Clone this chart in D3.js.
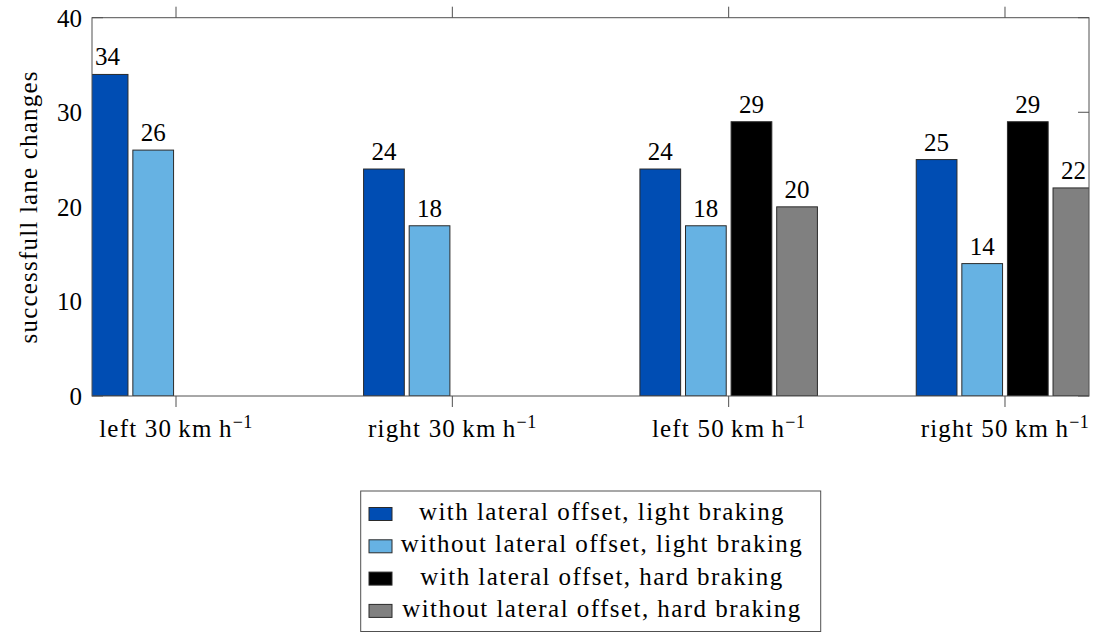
<!DOCTYPE html>
<html>
<head>
<meta charset="utf-8">
<script src="https://cdn.jsdelivr.net/npm/d3@7"></script>
</head>
<body style="margin:0">
<svg id="chart" width="1096" height="632"></svg>
<script>
// ---- data ----
const directions = ["left", "right", "left", "right"];
const speeds = ["30", "30", "50", "50"];
const seriesNames = [
  "with lateral offset, light braking",
  "without lateral offset, light braking",
  "with lateral offset, hard braking",
  "without lateral offset, hard braking"
];
const seriesColors = ["#004db3", "#66b2e3", "#000000", "#808080"];
const withLightValues    = [34, 24, 24, 25];
const withoutLightValues = [26, 18, 18, 14];
const withHardValues     = [null, null, 29, 29];
const withoutHardValues  = [null, null, 20, 22];
const yTicks = [0, 10, 20, 30, 40];
const yLabel = "successfull lane changes";

const seriesValues = [withLightValues, withoutLightValues, withHardValues, withoutHardValues];

// ---- layout ----
const FONT = '"Liberation Serif"';
const svg = d3.select("#chart").style("font-family", FONT);
const plot = { left: 92, right: 1089, top: 17.7, bottom: 396 };

const x = d3.scaleLinear().domain([-0.304, directions.length - 1 + 0.304]).range([plot.left, plot.right]);
const sub = d3.scaleBand().domain(seriesNames).range([-0.33, 0.33]).paddingInner(0.107).paddingOuter(0.0535);
const y = d3.scaleLinear().domain([0, 40]).range([plot.bottom, plot.top]);

const axisColor = "#505050";

svg.append("defs").append("clipPath").attr("id", "clip")
  .append("rect")
  .attr("x", plot.left).attr("y", plot.top)
  .attr("width", plot.right - plot.left).attr("height", plot.bottom - plot.top);

// y ticks (inward, left and right) drawn beneath bars
const yt = svg.append("g");
yTicks.forEach(v => {
  yt.append("line").attr("x1", plot.left).attr("x2", plot.left + 11)
    .attr("y1", y(v)).attr("y2", y(v)).attr("stroke", axisColor).attr("stroke-width", 1);
  yt.append("line").attr("x1", plot.right - 11).attr("x2", plot.right)
    .attr("y1", y(v)).attr("y2", y(v)).attr("stroke", axisColor).attr("stroke-width", 1);
});

// bars
const bars = [];
seriesValues.forEach((vals, si) => {
  vals.forEach((v, ci) => {
    if (v !== null) bars.push({ ci, si, v });
  });
});

const barG = svg.append("g").attr("clip-path", "url(#clip)");
barG.selectAll("rect").data(bars).join("rect")
  .attr("x", d => x(d.ci + sub(seriesNames[d.si])))
  .attr("width", d => x(sub.bandwidth()) - x(0))
  .attr("y", d => y(d.v))
  .attr("height", d => y(0) - y(d.v))
  .attr("fill", d => seriesColors[d.si])
  .attr("stroke", "#2a2a2a")
  .attr("stroke-width", 1);

// value labels
svg.append("g").selectAll("text").data(bars).join("text")
  .attr("x", d => x(d.ci + sub(seriesNames[d.si]) + sub.bandwidth() / 2))
  .attr("y", d => y(d.v) - 9)
  .attr("text-anchor", "middle")
  .attr("font-size", 25)
  .style("font-family", FONT)
  .text(d => d.v);

// frame
svg.append("rect")
  .attr("x", plot.left).attr("y", plot.top)
  .attr("width", plot.right - plot.left).attr("height", plot.bottom - plot.top)
  .attr("fill", "none").attr("stroke", axisColor).attr("stroke-width", 1);

// x ticks (outside, top and bottom)
directions.forEach((d, i) => {
  svg.append("line").attr("x1", x(i)).attr("x2", x(i))
    .attr("y1", plot.bottom).attr("y2", plot.bottom + 11)
    .attr("stroke", axisColor).attr("stroke-width", 1);
  svg.append("line").attr("x1", x(i)).attr("x2", x(i))
    .attr("y1", plot.top - 11).attr("y2", plot.top)
    .attr("stroke", axisColor).attr("stroke-width", 1);
});

// x tick labels
directions.forEach((d, i) => {
  const t = svg.append("text")
    .attr("x", x(i)).attr("y", 437)
    .attr("text-anchor", "middle")
    .attr("font-size", 25)
    .attr("letter-spacing", 1.2)
    .style("font-family", FONT);
  t.append("tspan").text(d + " " + speeds[i] + "\u2009km\u2009h");
  t.append("tspan").attr("dy", -9).attr("font-size", 18).attr("letter-spacing", 0.5).text("\u22121");
});

// y tick labels
svg.append("g").selectAll("text").data(yTicks).join("text")
  .attr("x", 82).attr("y", d => y(d) + 9)
  .attr("text-anchor", "end")
  .attr("font-size", 25)
  .style("font-family", FONT)
  .text(d => d);

// y axis label
svg.append("text")
  .attr("transform", `translate(37,${(plot.top + plot.bottom) / 2}) rotate(-90)`)
  .attr("text-anchor", "middle")
  .attr("font-size", 25)
  .attr("letter-spacing", 1.2)
  .style("font-family", FONT)
  .text(yLabel);

// legend
const lg = { left: 360.7, right: 820.7, top: 491, bottom: 631.5 };
const legend = svg.append("g");
legend.append("rect")
  .attr("x", lg.left).attr("y", lg.top)
  .attr("width", lg.right - lg.left).attr("height", lg.bottom - lg.top)
  .attr("fill", "#fff").attr("stroke", axisColor).attr("stroke-width", 1);
seriesNames.forEach((name, i) => {
  const cy = 514 + i * 32.3;
  legend.append("rect")
    .attr("x", 369).attr("y", cy - 6.5)
    .attr("width", 23).attr("height", 13)
    .attr("fill", seriesColors[i]).attr("stroke", "#2a2a2a").attr("stroke-width", 1);
  legend.append("text")
    .attr("x", 602).attr("y", cy + 6)
    .attr("text-anchor", "middle")
    .attr("font-size", 25)
    .attr("letter-spacing", 1.45)
    .style("font-family", FONT)
    .text(name);
});
</script>
</body>
</html>
